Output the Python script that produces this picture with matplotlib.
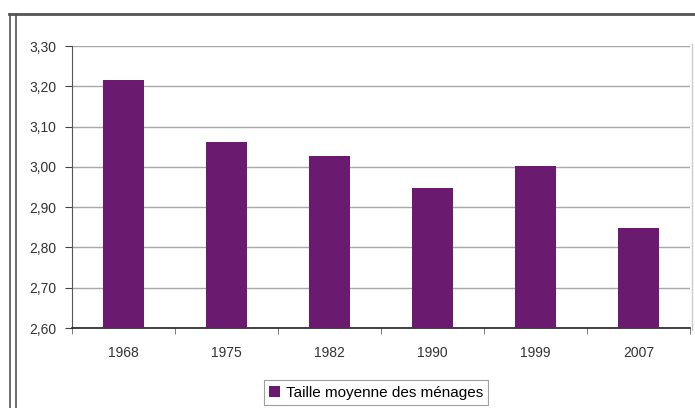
import matplotlib.pyplot as plt
from matplotlib.lines import Line2D
import numpy as np

plt.rcParams['font.family'] = ['Liberation Sans', 'DejaVu Sans']

years = ['1968', '1975', '1982', '1990', '1999', '2007']
taille = [3.215, 3.062, 3.028, 2.948, 3.001, 2.848]
yticks = [2.60, 2.70, 2.80, 2.90, 3.00, 3.10, 3.20, 3.30]
ylabels = ['2,60', '2,70', '2,80', '2,90', '3,00', '3,10', '3,20', '3,30']

fig = plt.figure(figsize=(6.95, 4.08), dpi=100)
ax = fig.add_axes([72 / 695, 1 - 328 / 408, 618 / 695, 282 / 408])

x = np.arange(len(years))
ax.bar(x, np.array(taille) - 2.60, bottom=2.60, width=0.4, color='#6a1b6f',
       label='Taille moyenne des ménages', zorder=3)

ax.set_xlim(-0.5, len(years) - 0.5)
ax.set_ylim(2.60, 3.30)
ax.set_yticks(yticks)
ax.set_yticklabels(ylabels, fontsize=10, color='#333333')
ax.set_xticks(x)
ax.set_xticklabels(years, fontsize=10, color='#333333')
ax.tick_params(axis='x', length=0, pad=13)
ax.tick_params(axis='y', length=5, color='#444444', pad=6)
# small ticks between categories
ax.set_xticks(np.arange(-0.5, len(years)), minor=True)
ax.tick_params(axis='x', which='minor', length=4, color='#666666')

ax.yaxis.grid(True, color='#a8a8a8', linewidth=1.0, zorder=0)
for s in ['top', 'right']:
    ax.spines[s].set_visible(False)
ax.spines['left'].set_color('#555555')
ax.spines['bottom'].set_color('#222222')
ax.spines['bottom'].set_linewidth(1.2)

leg = ax.legend(loc='upper center', bbox_to_anchor=(0.492, -0.158), frameon=True,
                fancybox=False, edgecolor='#888888', fontsize=11,
                handlelength=0.7, handleheight=0.7, handletextpad=0.4,
                borderpad=0.35)
leg.get_frame().set_linewidth(0.8)

# outer frame of the original picture
W, H = 695, 408
fig.add_artist(Line2D([9 / W, 1], [1 - 14 / H] * 2, transform=fig.transFigure,
                      color='#555555', lw=2))
fig.add_artist(Line2D([9.5 / W] * 2, [0, 1 - 14 / H], transform=fig.transFigure,
                      color='#555555', lw=1.2))
fig.add_artist(Line2D([16 / W] * 2, [0, 1 - 14 / H], transform=fig.transFigure,
                      color='#555555', lw=1.2))
fig.add_artist(Line2D([692 / W] * 2, [1 - 44 / H, 1 - 330 / H], transform=fig.transFigure,
                      color='#cccccc', lw=1))

fig.savefig('out.png', dpi=100)
